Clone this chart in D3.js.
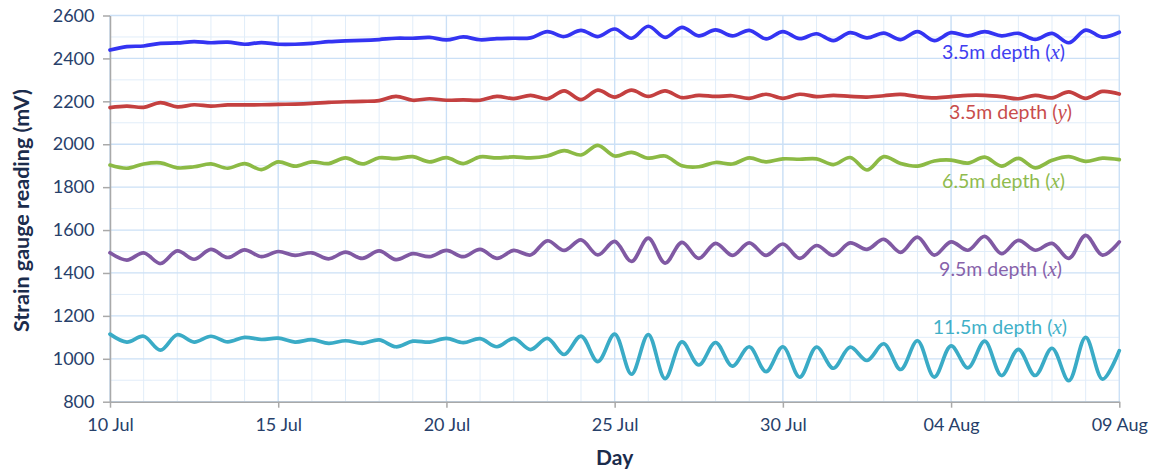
<!DOCTYPE html>
<html>
<head>
<meta charset="utf-8">
<script src="https://cdn.jsdelivr.net/npm/d3@7"></script>
<style>
  body { margin: 0; background: #ffffff; }
  svg { display: block; }
</style>
</head>
<body>
<svg id="chart" width="1156" height="471"></svg>
<script>
// ---------------- DATA ----------------
const startDate = "2017-07-10";
const endDate = "2017-08-09";
const sampleStepHours = 12;           // readings every half day
const xTickDates = ["2017-07-10", "2017-07-15", "2017-07-20", "2017-07-25", "2017-07-30", "2017-08-04", "2017-08-09"];
const xTickLabels = ["10 Jul", "15 Jul", "20 Jul", "25 Jul", "30 Jul", "04 Aug", "09 Aug"];
const yTicks = [800, 1000, 1200, 1400, 1600, 1800, 2000, 2200, 2400, 2600];

const seriesNames = ["3.5m depth", "3.5m depth", "6.5m depth", "9.5m depth", "11.5m depth"];
const seriesAxes = ["x", "y", "x", "x", "x"];

const depth35x = [2439, 2455, 2458, 2470, 2472, 2478, 2473, 2476, 2466, 2474,
  2466, 2466, 2470, 2478, 2482, 2484, 2488, 2494, 2494, 2498,
  2486, 2500, 2487, 2492, 2494, 2496, 2525, 2502, 2531, 2502,
  2537, 2494, 2550, 2498, 2545, 2505, 2533, 2505, 2531, 2491,
  2525, 2492, 2515, 2483, 2520, 2496, 2518, 2488, 2525, 2483,
  2520, 2505, 2525, 2505, 2517, 2489, 2517, 2473, 2532, 2499, 2522];

const depth35y = [2171, 2178, 2172, 2194, 2174, 2184, 2178, 2183, 2183, 2184,
  2186, 2187, 2190, 2195, 2198, 2200, 2203, 2223, 2205, 2212,
  2205, 2207, 2205, 2223, 2213, 2228, 2212, 2249, 2208, 2252,
  2220, 2252, 2223, 2249, 2217, 2228, 2223, 2226, 2214, 2233,
  2214, 2233, 2222, 2228, 2223, 2220, 2226, 2232, 2222, 2216,
  2222, 2228, 2228, 2222, 2212, 2228, 2216, 2244, 2214, 2246, 2234];

const depth65x = [1903, 1888, 1908, 1913, 1890, 1895, 1908, 1888, 1910, 1882,
  1918, 1898, 1918, 1910, 1936, 1908, 1937, 1933, 1942, 1918,
  1938, 1910, 1941, 1936, 1941, 1936, 1945, 1970, 1950, 1995,
  1945, 1962, 1935, 1945, 1900, 1895, 1915, 1908, 1936, 1918,
  1932, 1930, 1932, 1905, 1938, 1880, 1942, 1910, 1898, 1922,
  1926, 1912, 1940, 1898, 1934, 1890, 1925, 1942, 1920, 1935, 1928];

const depth95x = [1494, 1460, 1494, 1444, 1503, 1464, 1510, 1472, 1508, 1476,
  1500, 1482, 1494, 1466, 1497, 1468, 1503, 1462, 1490, 1476,
  1505, 1476, 1510, 1468, 1505, 1484, 1550, 1505, 1554, 1484,
  1547, 1454, 1562, 1446, 1543, 1468, 1538, 1482, 1540, 1482,
  1535, 1468, 1528, 1482, 1540, 1510, 1557, 1496, 1567, 1483,
  1545, 1506, 1571, 1490, 1552, 1506, 1538, 1468, 1575, 1483, 1545];

const depth115x = [1115, 1078, 1105, 1040, 1112, 1078, 1105, 1079, 1100, 1090,
  1096, 1078, 1089, 1072, 1084, 1072, 1088, 1056, 1082, 1078,
  1095, 1075, 1094, 1056, 1095, 1043, 1095, 1020, 1106, 987,
  1115, 928, 1113, 908, 1079, 971, 1076, 966, 1056, 940,
  1056, 914, 1055, 956, 1054, 992, 1070, 950, 1084, 915,
  1060, 958, 1082, 922, 1044, 922, 1049, 898, 1100, 905, 1038];

const seriesValues = [depth35x, depth35y, depth65x, depth95x, depth115x];

// ---------------- STYLE / LAYOUT ----------------
const lineColors = ["#3434f2", "#c44040", "#8cba45", "#8059a3", "#3aabc6"];
const labelColors = ["#3e3ef0", "#c84c4c", "#8fbb4e", "#8762aa", "#40b0c8"];
const labelLayout = [ // [right x, baseline y] in px
  [1065, 59], [1072, 119], [1065, 188], [1062, 276], [1067, 334]
];
const W = 1156, H = 471;
const margin = { left: 110, right: 36.7, top: 15.5, bottom: 69.3 };
const tickColor = "#27406a";
const titleColor = "#1b2c4c";
const font = "Lato, 'Open Sans', sans-serif";

const svg = d3.select("#chart");
const parse = d3.utcParse("%Y-%m-%d");
const t0 = parse(startDate), t1 = parse(endDate);

const x = d3.scaleUtc().domain([t0, t1]).range([margin.left, W - margin.right]);
const y = d3.scaleLinear().domain([800, 2600]).range([H - margin.bottom, margin.top]);

const g = svg.append("g");

// minor gridlines
const minorDays = d3.utcDay.range(t0, d3.utcDay.offset(t1, 1));
g.append("g").selectAll("line").data(minorDays).join("line")
  .attr("x1", d => x(d)).attr("x2", d => x(d))
  .attr("y1", y(800)).attr("y2", y(2600))
  .attr("stroke", "#e1edf9").attr("stroke-width", 1);
g.append("g").selectAll("line").data(d3.range(900, 2600, 200)).join("line")
  .attr("x1", x(t0)).attr("x2", x(t1))
  .attr("y1", d => y(d)).attr("y2", d => y(d))
  .attr("stroke", "#e1edf9").attr("stroke-width", 1);
// major gridlines
const majorDates = xTickDates.map(parse);
g.append("g").selectAll("line").data(majorDates).join("line")
  .attr("x1", d => x(d)).attr("x2", d => x(d))
  .attr("y1", y(800)).attr("y2", y(2600))
  .attr("stroke", "#cbe0f6").attr("stroke-width", 1.3);
g.append("g").selectAll("line").data(yTicks).join("line")
  .attr("x1", x(t0)).attr("x2", x(t1))
  .attr("y1", d => y(d)).attr("y2", d => y(d))
  .attr("stroke", "#cbe0f6").attr("stroke-width", 1.3);

// axes
const xAxis = d3.axisBottom(x).tickValues(majorDates)
  .tickFormat((d, i) => xTickLabels[i]).tickSize(6).tickPadding(11).tickSizeOuter(0);
const yAxis = d3.axisLeft(y).tickValues(yTicks).tickFormat(d3.format("d"))
  .tickSize(7).tickPadding(8.5).tickSizeOuter(0);

const gx = g.append("g").attr("transform", `translate(0,${y(800)})`).call(xAxis);
const gy = g.append("g").attr("transform", `translate(${x(t0)},0)`).call(yAxis);
[gx, gy].forEach(a => {
  a.select(".domain").attr("stroke", "#a9a9a9").attr("stroke-width", 1.5);
  a.selectAll(".tick line").attr("stroke", "#a9a9a9").attr("stroke-width", 1.5);
  a.selectAll("text").attr("fill", tickColor).style("font-family", font).style("font-size", "18px");
});

// series lines
const line = d3.line()
  .x((d, i) => x(d3.utcHour.offset(t0, i * sampleStepHours)))
  .y(d => y(d))
  .curve(d3.curveCatmullRom.alpha(0.5));

g.append("g").selectAll("path").data(seriesValues).join("path")
  .attr("d", d => line(d))
  .attr("fill", "none")
  .attr("stroke", (d, i) => lineColors[i])
  .attr("stroke-width", 3.7)
  .attr("stroke-linejoin", "round")
  .attr("stroke-linecap", "round");

// series labels
seriesNames.forEach((name, i) => {
  const t = g.append("text")
    .attr("x", labelLayout[i][0]).attr("y", labelLayout[i][1])
    .attr("text-anchor", "end")
    .attr("fill", labelColors[i])
    .style("font-family", font).style("font-size", "19.5px");
  t.append("tspan").text(name + " (");
  t.append("tspan").text(seriesAxes[i])
    .style("font-family", "'Liberation Serif', 'DejaVu Serif', serif")
    .style("font-style", "italic").style("font-size", "21px");
  t.append("tspan").text(")");
});

// axis titles
g.append("text")
  .attr("transform", `translate(29,${(y(800) + y(2600)) / 2 + 2}) rotate(-90)`)
  .attr("text-anchor", "middle")
  .attr("fill", titleColor)
  .style("font-family", font).style("font-size", "21.5px").style("font-weight", "bold")
  .text("Strain gauge reading (mV)");

g.append("text")
  .attr("x", (x(t0) + x(t1)) / 2).attr("y", 465)
  .attr("text-anchor", "middle")
  .attr("fill", titleColor)
  .style("font-family", font).style("font-size", "21px").style("font-weight", "bold")
  .text("Day");
</script>
</body>
</html>
